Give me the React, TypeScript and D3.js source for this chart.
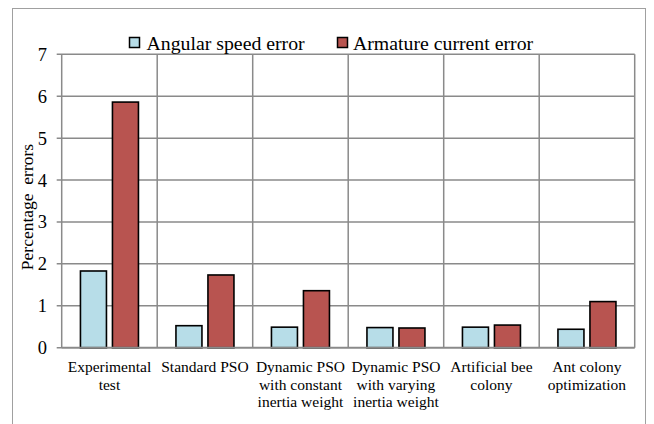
import React from "react";
import * as d3 from "d3";

const categories: string[][] = [
  ["Experimental", "test"],
  ["Standard PSO"],
  ["Dynamic PSO", "with constant", "inertia weight"],
  ["Dynamic PSO", "with varying", "inertia weight"],
  ["Artificial bee", "colony"],
  ["Ant colony", "optimization"],
];
const seriesNames = ["Angular speed error", "Armature current error"];
const angularSpeed = [1.83, 0.525, 0.49, 0.48, 0.49, 0.44];
const armatureCurrent = [5.86, 1.735, 1.36, 0.47, 0.54, 1.1];
const yTicks = [0, 1, 2, 3, 4, 5, 6, 7];
const colors = ["#b7dde8", "#b85450"];

const W = 654;
const H = 424;
const left = 61.7;
const right = 634.7;
const top = 54.3;
const bottom = 347.7;
const font = "'Liberation Serif', 'Times New Roman', serif";

export default function App() {
  const keys = categories.map((c) => c.join(" "));
  const x0 = d3.scaleBand<string>().domain(keys).range([left, right]).padding(0);
  const x1 = d3
    .scaleBand<string>()
    .domain(seriesNames)
    .range([0, x0.bandwidth()])
    .paddingInner(0.1875)
    .paddingOuter(0.586);
  const y = d3.scaleLinear().domain([0, 7]).range([bottom, top]);
  const series = [angularSpeed, armatureCurrent];
  const grid = "#8a8a8a";

  return (
    <svg
      width={W}
      height={H}
      style={{ position: "absolute", left: 0, top: 0, background: "#fff", fontFamily: font }}
    >
      <rect x={12.5} y={8.5} width={633} height={440} fill="#fff" stroke="#a0a0a0" strokeWidth={1} />
      {/* horizontal grid */}
      {yTicks.map((t) => (
        <g key={"h" + t}>
          <line x1={left - 5} x2={right} y1={y(t)} y2={y(t)} stroke={grid} strokeWidth={1.5} />
          <text x={47} y={y(t) + 6.5} fontSize={18.5} textAnchor="end" fill="#000">
            {t}
          </text>
        </g>
      ))}
      {/* vertical grid at category boundaries */}
      {[...keys.map((k) => x0(k)!), right].map((v, i) => (
        <line key={"v" + i} x1={v} x2={v} y1={top} y2={bottom} stroke={grid} strokeWidth={1.5} />
      ))}
      {/* bars */}
      {keys.map((k, i) => (
        <g key={"b" + i} transform={`translate(${x0(k)},0)`}>
          {series.map((s, j) => (
            <rect
              key={j}
              x={x1(seriesNames[j])}
              y={y(s[i])}
              width={x1.bandwidth()}
              height={bottom - y(s[i])}
              fill={colors[j]}
              stroke="#000"
              strokeWidth={1.6}
            />
          ))}
        </g>
      ))}
      <line x1={left} x2={right} y1={bottom} y2={bottom} stroke={grid} strokeWidth={1.8} />
      {/* category labels */}
      {categories.map((lines, i) => (
        <text
          key={"c" + i}
          x={x0(keys[i])! + x0.bandwidth() / 2}
          y={372}
          fontSize={15.5}
          textAnchor="middle"
          fill="#000"
        >
          {lines.map((l, li) => (
            <tspan key={li} x={x0(keys[i])! + x0.bandwidth() / 2} dy={li === 0 ? 0 : 17.5}>
              {l}
            </tspan>
          ))}
        </text>
      ))}
      {/* y axis title */}
      <text
        transform={`translate(33,207) rotate(-90)`}
        fontSize={17.5}
        textAnchor="middle"
        fill="#000"
        xmlSpace="preserve"
      >
        {"Percentage  errors"}
      </text>
      {/* legend */}
      <g>
        <rect x={129.5} y={37.5} width={10} height={10} fill={colors[0]} stroke="#000" strokeWidth={1.5} />
        <text x={146.5} y={49.5} fontSize={19.8} fill="#000">
          {seriesNames[0]}
        </text>
        <rect x={337.5} y={37.5} width={10} height={10} fill={colors[1]} stroke="#000" strokeWidth={1.5} />
        <text x={353} y={49.5} fontSize={19.8} fill="#000">
          {seriesNames[1]}
        </text>
      </g>
    </svg>
  );
}
